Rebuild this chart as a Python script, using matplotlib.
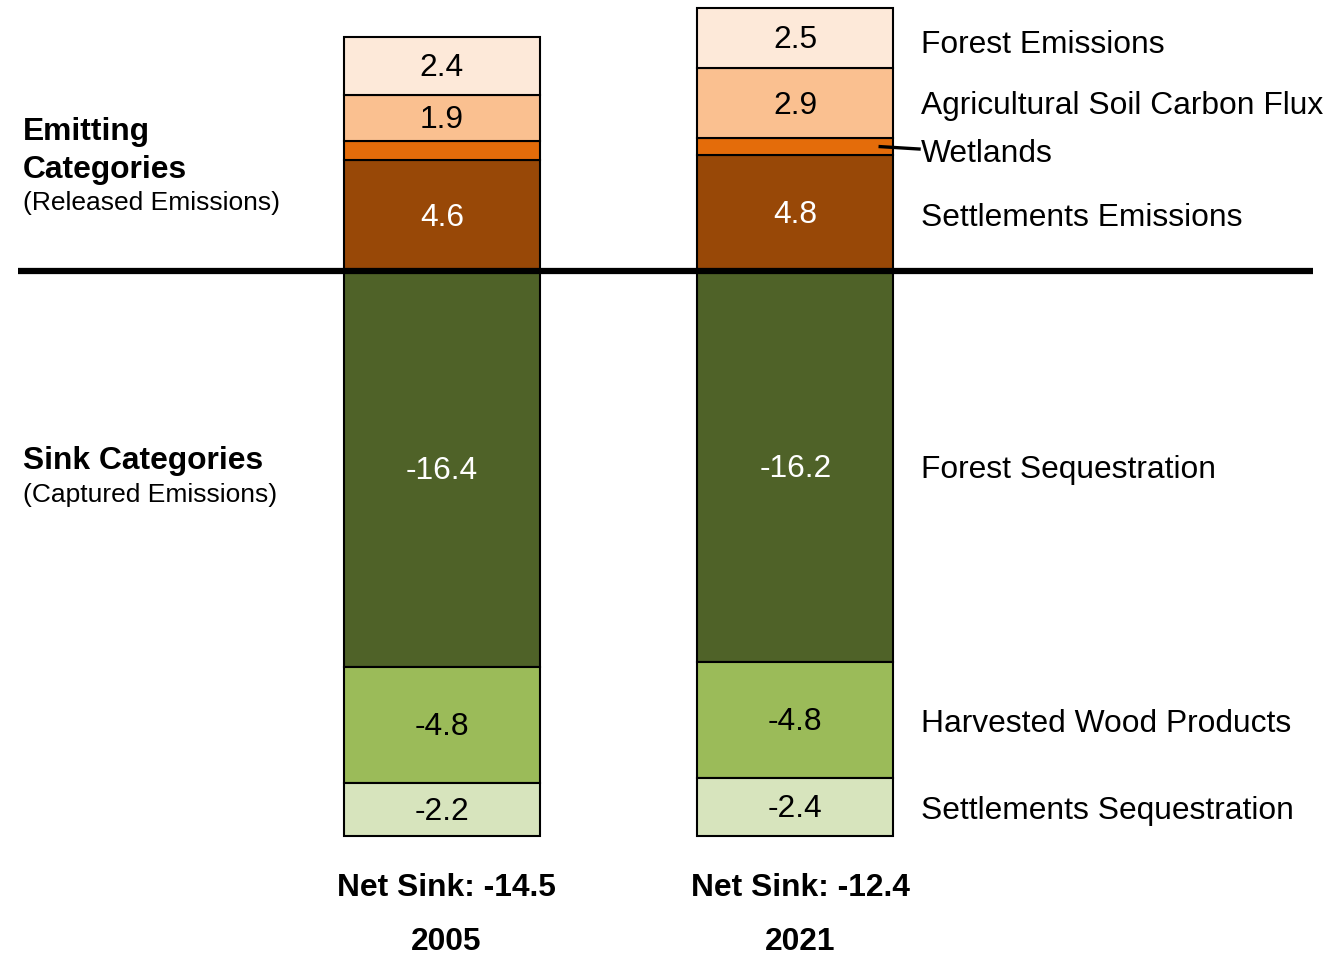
import numpy as np
import matplotlib.pyplot as plt

plt.rcParams['font.family'] = ['Liberation Sans', 'DejaVu Sans']

# data
years = ['2005', '2021']
net_sink = [-14.5, -12.4]
emit_names = ['Settlements Emissions', 'Wetlands', 'Agricultural Soil Carbon Flux', 'Forest Emissions']
emit_vals = [[4.6, 4.8], [0.8, 0.7], [1.9, 2.9], [2.4, 2.5]]
emit_colors = ['#984807', '#E46C0A', '#FAC090', '#FDE9D9']
emit_show = [True, False, True, True]
emit_txt = ['white', 'black', 'black', 'black']
emit_lab_dy = [-0.22, -0.3, -0.12, -0.3]
sink_names = ['Forest Sequestration', 'Harvested Wood Products', 'Settlements Sequestration']
sink_vals = [[-16.4, -16.2], [-4.8, -4.8], [-2.2, -2.4]]
sink_colors = ['#4F6228', '#9BBB59', '#D7E4BD']
sink_txt = ['white', 'black', 'black']

fig = plt.figure(figsize=(13.27, 9.55), dpi=100)
ax = fig.add_axes([0, 0, 1, 1])
ax.set_xlim(-1.25, 2.504)
ax.set_ylim(-28.32, 11.22)
ax.axis('off')

x = np.arange(len(years))
w = 0.554
fs = 22.9
fs_small = 19

# emitting stack (upwards)
bottom = np.zeros(2)
for name, vals, c, show, tc, dy in zip(emit_names, emit_vals, emit_colors, emit_show, emit_txt, emit_lab_dy):
    vals = np.array(vals)
    ax.bar(x, vals, w, bottom=bottom, color=c, edgecolor='black', linewidth=1.5, zorder=2)
    if show:
        for i in range(2):
            ax.text(x[i], bottom[i] + vals[i] / 2 - 0.1, f'{vals[i]:.1f}', ha='center', va='center',
                    fontsize=fs, color=tc)
    ymid = bottom[1] + vals[1] / 2
    if name == 'Wetlands':
        ax.plot([x[1] + 0.24, x[1] + 0.35], [ymid, ymid - 0.1], color='black', lw=2.4, zorder=3)
    ax.text(1.355, ymid + dy, name, ha='left', va='center', fontsize=fs)
    bottom = bottom + vals

# sink stack (downwards)
bottom = np.zeros(2)
for name, vals, c, tc in zip(sink_names, sink_vals, sink_colors, sink_txt):
    vals = np.array(vals)
    ax.bar(x, vals, w, bottom=bottom, color=c, edgecolor='black', linewidth=1.5, zorder=2)
    for i in range(2):
        ax.text(x[i], bottom[i] + vals[i] / 2 - 0.08, f'{vals[i]:.1f}', ha='center', va='center',
                fontsize=fs, color=tc)
    ymid = bottom[1] + vals[1] / 2
    ax.text(1.355, ymid - 0.15, name, ha='left', va='center', fontsize=fs)
    bottom = bottom + vals

# zero line
ax.plot([-1.199, 2.464], [0, 0], color='black', lw=4.5, zorder=4, solid_capstyle='butt')

# left group labels
ax.text(-1.185, 5.75, 'Emitting', ha='left', va='center', fontsize=fs, fontweight='bold')
ax.text(-1.185, 4.18, 'Categories', ha='left', va='center', fontsize=fs, fontweight='bold')
ax.text(-1.185, 2.8, '(Released Emissions)', ha='left', va='center', fontsize=fs_small)
ax.text(-1.185, -7.87, 'Sink Categories', ha='left', va='center', fontsize=fs, fontweight='bold')
ax.text(-1.185, -9.26, '(Captured Emissions)', ha='left', va='center', fontsize=fs_small)

# bottom labels
for i in range(2):
    ax.text(x[i] + 0.013, -25.55, f'Net Sink: {net_sink[i]}', ha='center', va='center',
            fontsize=fs, fontweight='bold')
    ax.text(x[i] + 0.013, -27.78, years[i], ha='center', va='center',
            fontsize=fs, fontweight='bold')

fig.savefig('out.png', dpi=100)
